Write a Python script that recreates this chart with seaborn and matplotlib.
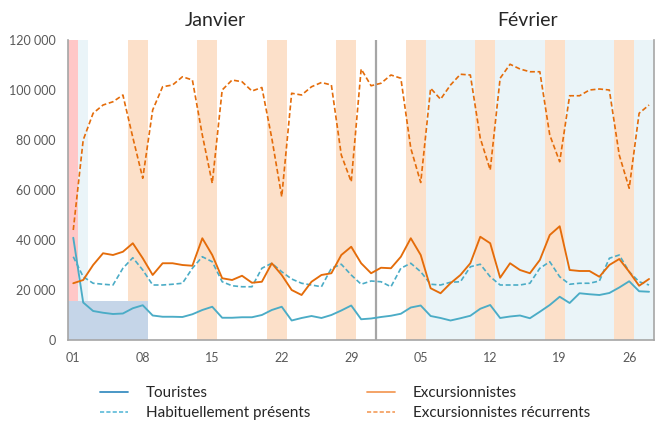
import numpy as np
import pandas as pd
import matplotlib
matplotlib.use("Agg")
import matplotlib.pyplot as plt
import matplotlib.transforms as mtransforms
import seaborn as sns
from matplotlib.lines import Line2D
from matplotlib.ticker import FuncFormatter, FixedLocator

# ---------------- data ----------------
dates = pd.date_range("2023-01-01", "2023-02-28", freq="D")

touristes = [40900, 15000, 11600, 10900, 10400, 10600, 12700, 13900, 9800, 9300,
             9300, 9200, 10300, 12000, 13300, 8900, 8900, 9100, 9100, 10000,
             12000, 13300, 7800, 8800, 9600, 8800, 10000, 11800, 13800, 8300,
             8600, 9200, 9700, 10500, 13000, 13800, 9600, 8800, 7800, 8700,
             9700, 12500, 14000, 8800, 9400, 9800, 8700, 11300, 14000, 17300,
             14800, 18700, 18300, 18000, 18800, 21000, 23500, 19500, 19300]

excursionnistes = [22700, 24000, 30000, 34700, 34000, 35300, 38700, 32700, 26000, 30700,
                   30700, 30000, 29700, 40700, 34000, 24700, 24000, 25700, 22900, 23300,
                   30700, 26000, 20000, 18000, 23300, 26000, 26700, 34000, 37300, 30700,
                   26700, 28900, 28700, 33300, 40700, 34000, 20700, 18700, 22700, 26000,
                   30700, 41300, 38700, 24900, 30700, 28000, 26700, 32000, 42000, 45500,
                   28000, 27600, 27600, 25300, 30000, 32400, 27300, 21700, 24400]

habituels = [33300, 25300, 22700, 22300, 22000, 28700, 32900, 28000, 22000, 22000,
             22300, 22700, 28700, 33300, 31300, 23300, 21700, 21300, 21300, 28700,
             30700, 27300, 24400, 22700, 22000, 21300, 28700, 30300, 26000, 22300,
             23600, 23300, 21300, 28700, 30700, 27300, 22300, 22000, 23100, 23300,
             29300, 30300, 25300, 22000, 22000, 22000, 22700, 28700, 31300, 25300,
             22300, 22700, 22700, 23600, 32700, 34000, 27300, 23300, 22000]

recurrents = [44000, 80000, 90700, 94000, 95300, 98000, 81000, 64700, 92000, 101300,
              102000, 105300, 104000, 82000, 62700, 100000, 104000, 103300, 99600, 101000,
              80700, 57300, 98700, 98000, 101300, 103000, 102000, 74000, 63300, 108400,
              101700, 102700, 106000, 104700, 76700, 63000, 100700, 96300, 102000, 106300,
              106000, 80700, 68000, 104700, 110300, 108400, 107300, 107300, 82000, 71300,
              97700, 97700, 100000, 100400, 100000, 74000, 60700, 90700, 94000]

series_noms = ["Touristes", "Excursionnistes", "Habituellement présents", "Excursionnistes récurrents"]
mois = ["Janvier", "Février"]
jours_feries = ["2023-01-01"]
jours_ponts = ["2023-01-02"]
vacances = ["2023-02-06", "2023-02-28"]
zone_fin = "2023-01-08"
zone_niveau = 15500

# ---------------- style ----------------
sns.set_theme(style="white")
plt.rcParams["font.family"] = ["Lato", "DejaVu Sans"]

c_bleu = "#4BACC6"
c_orange = "#E46C0A"
c_weekend = "#FCE0C9"
c_vacances = "#EAF4F8"
c_ferie = "#FFC7C7"
c_zone = "#C5D5E8"
c_gris = "#A6A6A6"
c_texte = "#595959"

fig = plt.figure(figsize=(6.6, 4.22), dpi=100)
ax = fig.add_axes([68.3 / 660, 1 - 340 / 422, (654 - 68.3) / 660, 300 / 422])

idx = np.arange(len(dates))
pos = idx + 0.5
d0 = dates[0]


def day_index(d):
    return (pd.Timestamp(d) - d0).days


# background bands
v0, v1 = day_index(vacances[0]), day_index(vacances[1]) + 1
ax.axvspan(v0, v1, color=c_vacances, lw=0, zorder=0)
for d in jours_ponts:
    i = day_index(d)
    ax.axvspan(i, i + 1, color=c_vacances, lw=0, zorder=0)
for i in idx[dates.dayofweek >= 5]:
    ax.axvspan(i, i + 1, color=c_weekend, lw=0, zorder=0.5)
for d in jours_feries:
    i = day_index(d)
    ax.axvspan(i, i + 1, color=c_ferie, lw=0, zorder=0.6)
ax.fill_between([0, day_index(zone_fin) + 1], 0, zone_niveau, color=c_zone, lw=0, zorder=0.8)

# month separator
ax.axvline(day_index("2023-02-01"), color=c_gris, lw=1.6, zorder=1)

# lines
line_kw = dict(solid_joinstyle="round", dash_joinstyle="round")
sns.lineplot(x=pos, y=touristes, ax=ax, color=c_bleu, linewidth=1.35, zorder=3, **line_kw)
sns.lineplot(x=pos, y=habituels, ax=ax, color=c_bleu, linewidth=1.2,
             linestyle=(0, (3, 1.6)), zorder=3, **line_kw)
sns.lineplot(x=pos, y=excursionnistes, ax=ax, color=c_orange, linewidth=1.35, zorder=3, **line_kw)
sns.lineplot(x=pos, y=recurrents, ax=ax, color=c_orange, linewidth=1.2,
             linestyle=(0, (3, 1.6)), zorder=3, **line_kw)

ax.set_xlim(0, len(dates))
ax.set_ylim(0, 120000)
ax.set_yticks(np.arange(0, 120001, 20000))
ax.yaxis.set_major_formatter(FuncFormatter(lambda v, p: f"{int(v):,}".replace(",", " ")))

tick_idx = idx[::7]
ax.xaxis.set_major_locator(FixedLocator(pos[tick_idx]))
ax.set_xticklabels([dates[i].strftime("%d") for i in tick_idx])

ax.tick_params(axis="both", length=0, labelsize=9, colors=c_texte, pad=9)
ax.set_xlabel("")
ax.set_ylabel("")
ax.grid(False)
for s in ["left", "bottom", "right"]:
    ax.spines[s].set_color(c_gris)
    ax.spines[s].set_linewidth(1.2)
ax.spines["top"].set_visible(False)

# month titles
mid_jan = (day_index("2023-01-01") + day_index("2023-02-01")) / 2
mid_feb = (day_index("2023-02-01") + len(dates)) / 2
trans = mtransforms.blended_transform_factory(ax.transData, fig.transFigure)
for m, x in zip(mois, [mid_jan - 0.7, mid_feb + 1.3]):
    ax.text(x, 1 - 20 / 422, m, transform=trans,
            ha="center", va="center", fontsize=14, color="#262626")

# legends
h1 = [Line2D([], [], color="#3A8FC2", lw=1.3),
      Line2D([], [], color="#5BBAD8", lw=1.2, linestyle=(0, (2.5, 1.3)))]
h2 = [Line2D([], [], color="#F39C5A", lw=1.3),
      Line2D([], [], color="#F39C5A", lw=1.2, linestyle=(0, (2.5, 1.3)))]
common = dict(loc="upper left", frameon=False, fontsize=11, handlelength=1.85,
              handletextpad=1.15, labelspacing=0.42, borderpad=0, borderaxespad=0,
              labelcolor="#262626")
fig.legend(h1, [series_noms[0], series_noms[2]], bbox_to_anchor=(100 / 660, 1 - 386 / 422), **common)
fig.legend(h2, [series_noms[1], series_noms[3]], bbox_to_anchor=(367 / 660, 1 - 386 / 422), **common)

fig.savefig("out.png", dpi=100)
